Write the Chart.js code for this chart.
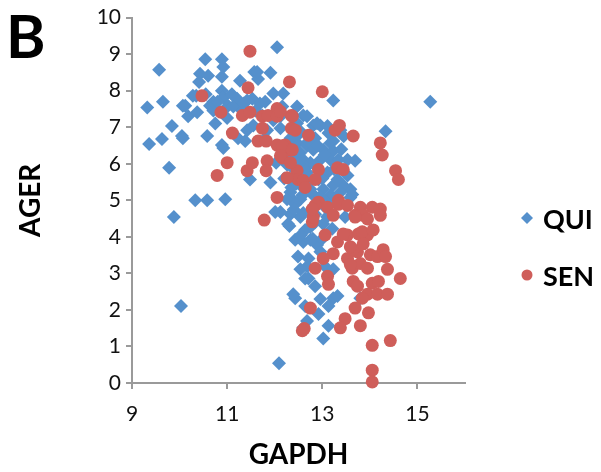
<!DOCTYPE html>
<html>
<head>
<meta charset="utf-8">
<script src="https://cdn.jsdelivr.net/npm/chart.js@4"></script>
<style>
  html, body { margin: 0; padding: 0; background: #fff; }
  #wrap { width: 601px; height: 472px; }
</style>
</head>
<body>
<div id="wrap"><canvas id="agerChart" width="601" height="472"></canvas></div>
<script>
// values
const quiGapdh = [
  12.05, 9.57, 10.54, 10.89, 10.43, 10.6, 10.89, 10.92, 10.41, 11.57,
  11.91, 11.65, 11.27, 10.89, 10.35, 11.97, 12.18, 9.32, 9.65, 10.07,
  10.18, 10.37, 10.64, 10.71, 10.92, 11.02, 11.21, 11.27, 11.53, 11.69,
  9.84, 10.05, 10.58, 9.63, 9.36, 10.89, 11.23, 11.38, 11.55, 11.84,
  12.39, 12.47, 10.12, 10.71, 11.13, 11.42, 11.74, 11.97, 12.12, 11.63,
  11.42, 12.12, 12.47, 10.28, 10.92, 9.78, 10.33, 10.58, 10.96, 11.48,
  9.88, 10.03, 12.43, 12.09, 12.01, 12.33, 12.31, 12.43, 12.39, 15.27,
  14.33, 12.6, 12.68, 12.81, 12.96, 13.11, 13.13, 12.89, 13.23, 13.69,
  12.47, 12.68, 12.54, 12.81, 13.02, 13.17, 13.23, 12.6, 12.75, 12.96,
  13.17, 13.34, 13.53, 12.26, 12.37, 12.68, 13.11, 13.53, 13.59, 12.54,
  12.75, 13.02, 13.23, 13.44, 12.33, 12.54, 12.81, 13.17, 13.59, 13.23,
  12.16, 12.26, 12.43, 12.12, 12.28, 13.02, 13.21, 12.6, 12.75, 12.89,
  12.71, 12.68, 12.64, 12.39, 13.23, 12.58, 12.81, 13.38, 13.63, 12.71,
  12.64, 12.96, 13.13, 13.32, 12.92, 12.68, 12.6, 13.13, 13.02, 13.8,
  11.8, 12.18, 12.33, 12.54, 12.85, 13.38, 12.92, 13.32, 12.43, 13.06,
  12.85, 12.54, 12.64, 12.96, 12.49, 12.54, 13.06, 12.85, 13.23, 10.07,
  12.03, 11.91, 13.48, 12.75, 12.5, 12.7, 12.9, 13.05, 12.4, 12.65,
  12.85, 13.0, 13.25, 12.45, 12.7, 12.95, 13.1, 12.4, 12.6, 12.85,
  13.1, 12.55, 12.8, 13.0, 12.5, 13.4, 13.45, 12.2, 12.35, 10.8,
  11.1, 11.35, 11.6, 11.0, 10.55, 11.8, 10.75
];
const quiAger = [
  9.19, 8.57, 8.86, 8.86, 8.46, 8.41, 8.38, 8.65, 8.24, 8.51,
  8.49, 8.32, 8.27, 8.0, 7.86, 7.92, 7.92, 7.54, 7.7, 7.59,
  7.3, 7.41, 7.59, 7.46, 7.81, 7.59, 7.78, 7.51, 7.78, 7.65,
  7.03, 6.76, 6.76, 6.68, 6.54, 6.51, 6.7, 6.62, 7.05, 6.92,
  7.32, 7.11, 7.59, 7.7, 7.57, 7.73, 7.32, 7.19, 7.3, 8.51,
  6.92, 6.97, 7.57, 7.86, 6.43, 5.89, 5.0, 5.0, 5.03, 5.57,
  4.54, 2.11, 2.32, 0.54, 4.68, 4.62, 4.3, 3.92, 5.0, 7.7,
  6.89, 7.32, 7.3, 7.05, 7.05, 7.03, 6.84, 7.11, 6.62, 6.08,
  6.57, 6.49, 6.3, 6.38, 6.38, 6.57, 6.35, 6.11, 6.03, 6.11,
  6.11, 6.11, 6.11, 5.97, 5.89, 5.76, 5.76, 5.68, 5.3, 5.41,
  5.3, 5.3, 5.41, 5.41, 5.22, 5.03, 5.14, 5.14, 5.08, 7.73,
  7.57, 5.03, 4.89, 4.68, 4.35, 4.35, 4.22, 3.86, 3.92, 3.78,
  3.41, 3.19, 2.86, 2.43, 2.32, 5.14, 5.16, 5.22, 5.16, 2.86,
  2.11, 2.3, 2.11, 2.38, 1.89, 1.7, 1.51, 1.57, 1.22, 2.32,
  6.7, 6.38, 6.7, 6.89, 6.7, 6.92, 5.57, 5.57, 5.62, 4.81,
  4.62, 4.54, 4.19, 3.59, 3.46, 3.11, 3.19, 2.65, 3.11, 6.7,
  6.03, 5.49, 4.54, 4.27, 6.8, 6.6, 6.5, 6.25, 6.2, 5.9,
  5.95, 5.6, 5.85, 5.45, 5.5, 5.1, 4.95, 4.75, 4.65, 4.4,
  4.55, 4.05, 3.95, 3.95, 6.0, 6.4, 6.75, 5.6, 5.35, 7.7,
  7.9, 7.65, 7.45, 7.25, 7.9, 7.7, 7.1
];
const senGapdh = [
  11.48, 12.31, 11.44, 10.47, 10.87, 11.32, 11.48, 11.74, 11.86, 12.05,
  12.05, 12.35, 12.35, 11.11, 11.65, 11.82, 12.05, 12.22, 12.33, 13.0,
  12.12, 12.37, 12.43, 12.71, 13.27, 13.36, 13.65, 14.22, 14.26, 12.16,
  12.16, 12.37, 12.47, 12.49, 12.6, 12.26, 12.92, 12.85, 13.32, 13.44,
  12.92, 13.34, 10.79, 11.0, 11.42, 11.53, 11.84, 11.82, 12.05, 11.78,
  12.12, 12.85, 13.11, 13.34, 13.53, 13.8, 14.05, 14.22, 13.69, 13.86,
  14.22, 12.79, 12.81, 13.06, 13.32, 13.53, 13.76, 13.95, 13.69, 13.95,
  13.23, 13.53, 13.74, 14.01, 14.16, 13.63, 13.8, 13.95, 12.85, 13.11,
  13.13, 13.65, 13.74, 14.05, 14.18, 13.95, 14.16, 14.37, 13.84, 14.07,
  13.65, 13.86, 14.28, 14.33, 13.59, 14.64, 14.37, 13.84, 13.69, 13.97,
  13.48, 13.38, 13.8, 14.43, 14.05, 14.05, 14.05, 12.62, 12.75, 14.54,
  14.6, 12.79, 13.02, 13.59, 13.44, 12.58, 12.64, 13.23, 12.33, 11.74
];
const senAger = [
  9.08, 8.24, 8.08, 7.86, 7.41, 7.32, 7.41, 7.3, 7.32, 7.51,
  7.3, 7.32, 6.97, 6.84, 6.62, 6.62, 6.51, 6.51, 6.38, 7.97,
  7.43, 7.3, 6.92, 6.78, 6.92, 7.05, 6.76, 6.57, 6.24, 6.49,
  6.16, 6.38, 5.81, 5.57, 5.54, 5.62, 5.84, 5.57, 5.89, 5.84,
  4.95, 5.0, 5.68, 6.03, 5.81, 6.03, 6.08, 5.81, 5.08, 4.46,
  6.22, 4.86, 4.81, 4.89, 4.86, 4.81, 4.81, 4.76, 4.59, 4.59,
  4.59, 4.41, 4.54, 4.05, 3.86, 4.05, 4.08, 4.05, 4.54, 4.49,
  3.54, 3.41, 3.59, 3.51, 3.46, 3.14, 3.27, 3.14, 3.14, 2.92,
  2.7, 2.78, 2.65, 2.73, 2.78, 2.43, 2.43, 3.11, 4.14, 4.19,
  3.65, 3.81, 3.65, 3.46, 3.24, 2.86, 2.43, 2.32, 2.05, 1.92,
  1.76, 1.51, 1.57, 1.16, 1.03, 0.35, 0.03, 1.49, 2.05, 5.81,
  5.57, 4.76, 3.41, 3.73, 4.08, 1.43, 5.35, 4.59, 6.03, 6.97
];
const xTicks = [9, 11, 13, 15];
const yTicks = [0, 1, 2, 3, 4, 5, 6, 7, 8, 9, 10];
const seriesNames = ['QUI', 'SEN'];

const BLUE = '#5590cc';
const RED = '#cf5e5a';
const AXIS = '#9a9a9a';
const FONT = 'Lato, "Liberation Sans", sans-serif';

const toPoints = (xs, ys) => xs.map((x, i) => ({ x: x, y: ys[i] }));

// panel letter + legend drawn on the canvas
const extras = {
  id: 'extras',
  afterDraw(chart) {
    const c = chart.ctx;
    c.save();
    c.fillStyle = '#000';
    c.font = 'bold 60px ' + FONT;
    c.textBaseline = 'alphabetic';
    c.fillText('B', 6, 58);

    c.font = 'bold 27px ' + FONT;
    c.textBaseline = 'middle';
    // QUI
    c.fillStyle = BLUE;
    c.beginPath();
    c.moveTo(527, 212); c.lineTo(533, 218); c.lineTo(527, 224); c.lineTo(521, 218);
    c.closePath(); c.fill();
    c.fillStyle = '#000';
    c.fillText(seriesNames[0], 543, 220);
    // SEN
    c.fillStyle = RED;
    c.beginPath();
    c.arc(527, 275, 5.5, 0, Math.PI * 2);
    c.fill();
    c.fillStyle = '#000';
    c.fillText(seriesNames[1], 543, 277);
    c.restore();
  }
};

const ctx = document.getElementById('agerChart');
new Chart(ctx, {
  type: 'scatter',
  data: {
    datasets: [
      {
        label: seriesNames[0],
        data: toPoints(quiGapdh, quiAger),
        pointStyle: 'rectRot',
        pointRadius: 7,
        backgroundColor: BLUE,
        borderColor: BLUE,
        borderWidth: 0,
        order: 1,
        clip: false
      },
      {
        label: seriesNames[1],
        data: toPoints(senGapdh, senAger),
        pointStyle: 'circle',
        pointRadius: 6.5,
        backgroundColor: RED,
        borderColor: RED,
        borderWidth: 0,
        order: 0,
        clip: false
      }
    ]
  },
  options: {
    responsive: false,
    animation: false,
    devicePixelRatio: 1,
    layout: { padding: { top: 14, right: 136, left: 0, bottom: 0 } },
    plugins: { legend: { display: false }, tooltip: { enabled: false } },
    scales: {
      x: {
        type: 'linear',
        min: 9,
        max: 16,
        afterBuildTicks: (scale) => { scale.ticks = xTicks.map(v => ({ value: v })); },
        afterFit: (scale) => { scale.height = 89; },
        grid: { drawOnChartArea: false, drawTicks: true, tickLength: 6, color: AXIS, lineWidth: 2 },
        border: { color: AXIS, width: 2 },
        ticks: { color: '#111', font: { family: FONT, size: 21 }, padding: 13, maxRotation: 0 },
        title: { display: true, text: 'GAPDH', color: '#000', font: { family: FONT, size: 28, weight: 'bold' }, padding: { top: 0, bottom: 0 } }
      },
      y: {
        type: 'linear',
        min: 0,
        max: 10,
        afterBuildTicks: (scale) => { scale.ticks = yTicks.map(v => ({ value: v })); },
        afterFit: (scale) => { scale.width = 132; },
        grid: { drawOnChartArea: false, drawTicks: true, tickLength: 6, color: AXIS, lineWidth: 2 },
        border: { color: AXIS, width: 2 },
        ticks: { color: '#111', font: { family: FONT, size: 21 }, padding: 5 },
        title: { display: true, text: 'AGER', color: '#000', font: { family: FONT, size: 28, weight: 'bold' }, padding: { top: 14, bottom: 0 } }
      }
    }
  },
  plugins: [extras]
});
</script>
</body>
</html>
